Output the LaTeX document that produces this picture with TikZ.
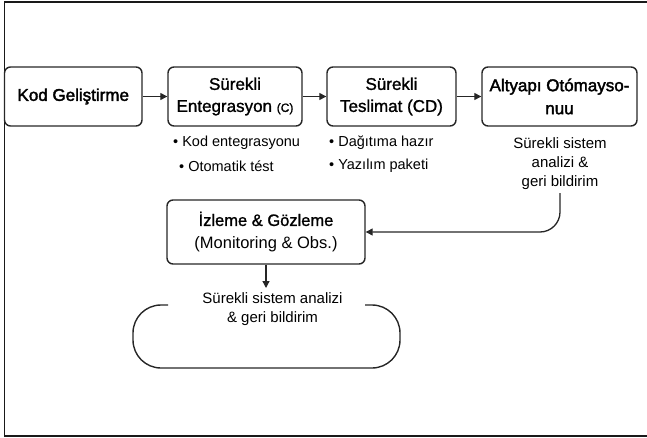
\documentclass[tikz,border=0pt]{standalone}
\usepackage{fontspec}
\setmainfont{Liberation Sans}
\newfontfamily\medfont{Liberation Sans}[FakeBold=1.2]
\newfontfamily\heavyfont{Liberation Sans}[FakeBold=2.2]
\usetikzlibrary{arrows.meta}

\tikzset{
  frameline/.style={line width=1.8pt, black!90},
  stagebox/.style={draw=black!85, line width=1.4pt, rounded corners=6pt, align=center,
    inner sep=0pt, minimum height=59pt, font=\medfont\fontsize{17}{22}\selectfont},
  flow/.style={line width=1.3pt, black!85, -{Triangle[length=7pt,width=7pt]}},
  bullet/.style={inner sep=0pt, anchor=west, font=\fontsize{14.5}{19}\selectfont},
  note/.style={inner sep=0pt, align=center, font=\fontsize{15}{19}\selectfont},
  loopline/.style={line width=1.4pt, black!85, rounded corners=28pt}
}

\begin{document}
\begin{tikzpicture}[x=1pt, y=-1pt]
  \useasboundingbox (0,0) rectangle (647,438);

  % outer frame (open on the right)
  \draw[frameline] (647,2) -- (4.5,2) -- (4.5,436) -- (647,436);

  % pipeline stages
  \node[stagebox, minimum width=137.5pt, font=\heavyfont\fontsize{17}{22}\selectfont]
    (kod) at (73.25,96.5) {Kod Geliştirme};
  \node[stagebox, minimum width=134pt] (ci) at (235,96.5)
    {Sürekli\\Entegrasyon {\fontsize{12}{14}\selectfont(C)}};
  \node[stagebox, minimum width=129pt] (cd) at (391.5,96.5)
    {Sürekli\\Teslimat (CD)};
  \node[stagebox, minimum width=155pt, font=\heavyfont\fontsize{17}{23}\selectfont]
    (alt) at (559.5,96.5) {Altyapı Otómayso-\\nuu};

  \draw[flow] (kod) -- (ci);
  \draw[flow] (ci) -- (cd);
  \draw[flow] (cd) -- (alt);

  % stage details
  \node[bullet] (ci1) at (173,143) {• Kod entegrasyonu};
  \node[bullet] (ci2) at (179,166) {• Otomatik tést};
  \node[bullet] (cd1) at (329,143) {• Dağıtıma hazır};
  \node[bullet] (cd2) at (329,166) {• Yazılım paketi};
  \node[note] (feedback) at (560,164) {Sürekli sistem\\analizi \&\\geri bildirim};

  % monitoring stage
  \node[stagebox, minimum width=198pt, minimum height=64pt,
        font=\fontsize{16.5}{23}\selectfont] (mon) at (266,232)
    {{\medfont İzleme \& Gözleme}\\(Monitoring \& Obs.)};

  \draw[flow, rounded corners=20pt] ([yshift=-3pt]feedback.south) |- (mon.east);

  % continuous feedback loop
  \coordinate (looptop) at (266,288);
  \draw[flow] (mon.south) -- (looptop);
  \node[note, font=\fontsize{15}{19}\selectfont] (looptext) at (272.5,309.5)
    {Sürekli sistem analizi\\\& geri bildirim};
  \draw[loopline] (168,305) -- (133,305) -- (133,368) -- (400,368) -- (400,305) -- (365,305);
\end{tikzpicture}
\end{document}
